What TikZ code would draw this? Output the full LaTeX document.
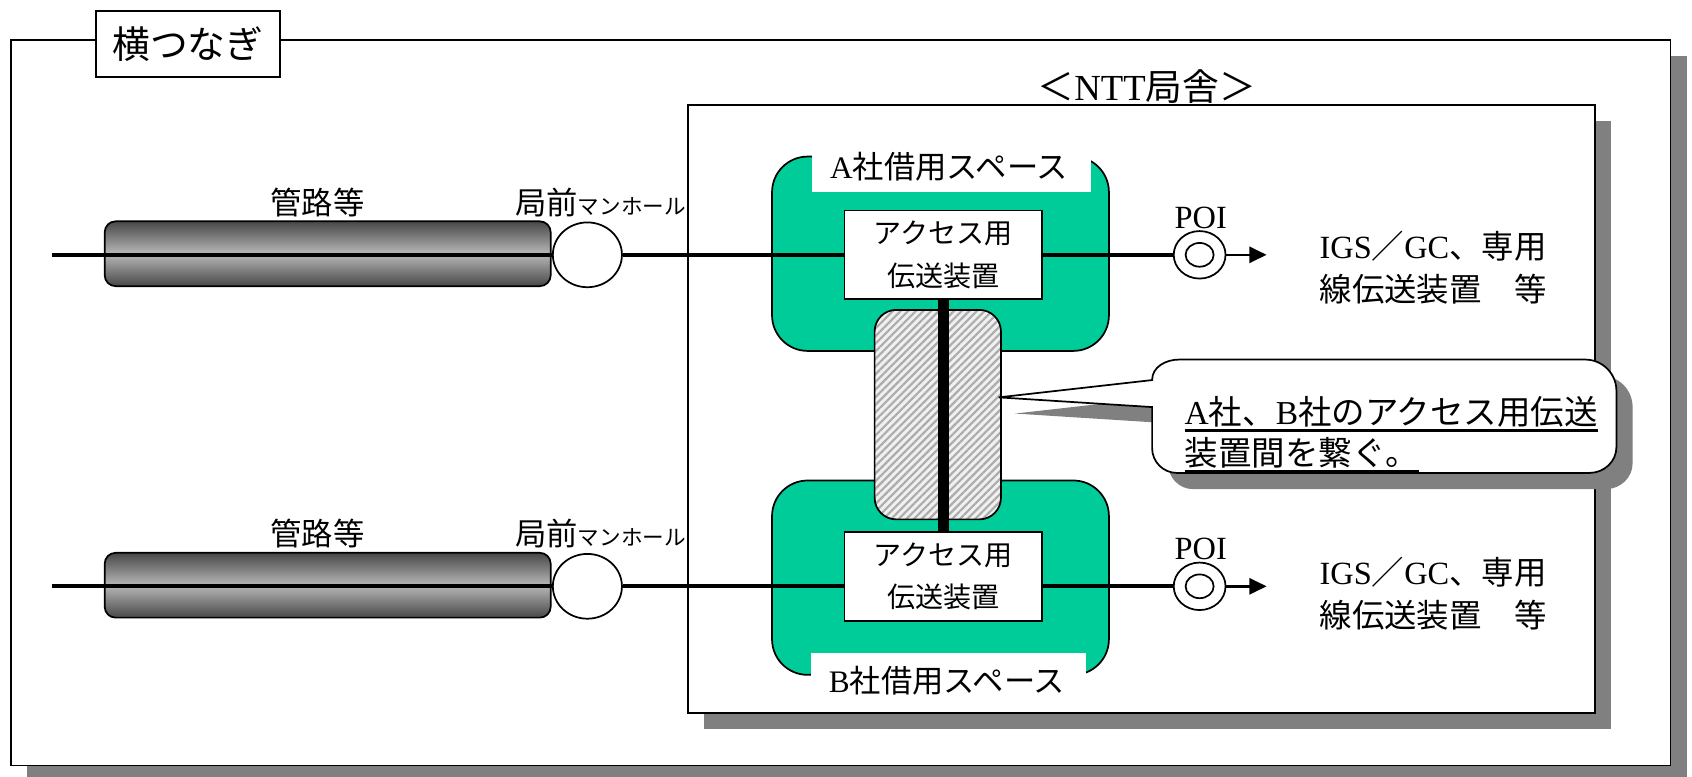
\documentclass[tikz,border=0pt]{standalone}
\usepackage{fontspec}
\setmainfont{Liberation Serif}
\newfontfamily\cjk{Noto Sans CJK JP}
\usetikzlibrary{shapes.geometric,patterns.meta,arrows.meta,shadows}
\definecolor{sgreen}{HTML}{00CC99}
\definecolor{shadowgray}{HTML}{808080}
\newcommand\latn[1]{{\rmfamily #1}}
\newcommand\fs[2]{\fontsize{#1}{#2}\selectfont}
\begin{document}
\begin{tikzpicture}[x=1pt,y=-1pt,
  box/.style={draw, line width=1.6pt, fill=white, inner sep=0pt},
  sh/.style={drop shadow={shadow xshift=15pt, shadow yshift=-15pt, opacity=1, fill=shadowgray}},
  conn/.style={line width=3.6pt},
  thinconn/.style={line width=2.2pt},
  pipe/.style={draw, line width=1.6pt, rounded corners=10pt, top color=black!72, bottom color=black!72, middle color=black!28, minimum width=413pt, minimum height=60pt, inner sep=0pt},
  hole/.style={ellipse, draw, line width=1.6pt, fill=white, minimum width=64pt, minimum height=60pt, inner sep=0pt},
  space/.style={draw, line width=1.6pt, fill=sgreen, rounded corners=33pt, minimum width=312pt, minimum height=180pt, inner sep=0pt},
  lblbg/.style={fill=white, inner sep=0pt},
  equip/.style={draw, line width=1.6pt, fill=white, minimum width=183pt, minimum height=82pt, align=center, font=\cjk\fs{26}{39}, inner sep=0pt},
  hatch/.style={draw, line width=1.6pt, rounded corners=20pt, minimum width=117pt, minimum height=194pt, inner sep=0pt, preaction={fill=gray!12}, pattern={Lines[angle=45,distance=5pt,line width=2pt]}, pattern color=gray!65},
  poi/.style={ellipse, draw, line width=1.6pt, fill=white, minimum width=48pt, minimum height=44pt, inner sep=0pt},
  poiin/.style={ellipse, draw, line width=1.6pt, minimum width=26pt, minimum height=22pt, inner sep=0pt},
  jp/.style={font=\cjk\fs{29}{40}, inner sep=0pt},
  dst/.style={font=\cjk\fs{30}{40}, inner sep=0pt},
  latlbl/.style={font=\rmfamily\fs{30}{36}, inner sep=0pt},
  balloon/.style={draw, line width=1.6pt, fill=white},
  ctext/.style={font=\cjk\fs{31}{37}, inner sep=0pt},
  uline/.style={line width=2pt},
  tip/.style={-{Triangle[length=16pt,width=15pt]}}
]
\useasboundingbox (0,0) rectangle (1567,719);

% frames
\node[box, sh, minimum width=1537pt, minimum height=672pt] (outer) at (778.5,373) {};
\node[box, minimum width=170pt, minimum height=61pt, font=\cjk\fs{35}{40}] (title) at (174,40.5) {横つなぎ};
\node[box, sh, minimum width=840pt, minimum height=563pt] (ntt) at (1057,378.5) {};
\node[font=\cjk\fs{34}{40}, inner sep=0pt] (nttlbl) at (1062,80) {＜\latn{NTT}局舎＞};

% pipes and manholes
\node[pipe] (pipeA) at (303.5,235) {};
\node[pipe] (pipeB) at (303.5,542) {};
\node[hole] (holeA) at (544,236) {};
\node[hole] (holeB) at (544,543) {};
\node[jp] (kanA) at (294,188) {管路等};
\node[jp] (kanB) at (294,494) {管路等};
\node[jp, anchor=west] (mhA) at (477,188) {局前{\fs{20}{24}マンホール}};
\node[jp, anchor=west] (mhB) at (477,494) {局前{\fs{20}{24}マンホール}};

% rented spaces
\node[space] (spA) at (871,235) {};
\node[space] (spB) at (871,535) {};
\node[lblbg, minimum width=258pt, minimum height=35pt] (spAbg) at (881,160.5) {};
\node[jp] (spAlbl) at (879,154) {\latn{A}社借用スペース};
\node[lblbg, minimum width=255pt, minimum height=47pt] (spBbg) at (878.5,628.5) {};
\node[jp] (spBlbl) at (877,630) {\latn{B}社借用スペース};

% link between equipment
\node[hatch] (link) at (868.5,384) {};

% equipment
\node[equip] (eqA) at (873.5,236) {アクセス用\\伝送装置};
\node[equip] (eqB) at (873.5,534) {アクセス用\\伝送装置};
\draw[line width=10pt] (eqA.south) -- (eqB.north);

% POI
\node[poi] (poiA) at (1111,236) {};
\node[poiin] (poiAi) at (1111,236) {};
\node[poi] (poiB) at (1111,543) {};
\node[poiin] (poiBi) at (1111,543) {};
\node[latlbl] (poiAl) at (1112,202) {POI};
\node[latlbl] (poiBl) at (1112,508) {POI};

% connectors
\coordinate (startA) at (48,236);
\coordinate (startB) at (48,543);
\coordinate (endA) at (1173,236);
\coordinate (endB) at (1173,543);
\draw[conn] (startA) -- (holeA.west);
\draw[conn] (holeA.east) -- (eqA.west);
\draw[conn] (eqA.east) -- (poiA.west);
\draw[thinconn, tip] (poiA.east) -- (endA);
\draw[conn] (startB) -- (holeB.west);
\draw[conn] (holeB.east) -- (holeB.east -| eqB.west);
\draw[conn] (eqB.east |- poiB.west) -- (poiB.west);
\draw[thinconn, tip] (poiB.east) -- (endB);

% destinations
\node[dst, anchor=west, align=left] (dstA) at (1222,248) {\latn{IGS}／\latn{GC}、専用\\線伝送装置　等};
\node[dst, anchor=west, align=left] (dstB) at (1222,550) {\latn{IGS}／\latn{GC}、専用\\線伝送装置　等};

% callout
\coordinate (ctip) at (925,368);
\path[balloon, sh] (1067,352) to[out=90,in=180] (1092,333) -- (1468,333) to[out=0,in=90] (1497,362) -- (1497,414) to[out=-90,in=0] (1472,438) -- (1090,438) to[out=180,in=-90] (1067,415) -- (1067,377) -- (ctip) -- cycle;
\node[ctext, anchor=west] (c1) at (1097,381) {\latn{A}社、\latn{B}社のアクセス用伝送};
\node[ctext, anchor=west] (c2) at (1097,419) {装置間を繋ぐ。};
\draw[uline] ([yshift=-6pt]c1.base west) -- ([yshift=-6pt]c1.base east);
\draw[uline] ([yshift=-6pt]c2.base west) -- ([yshift=-6pt]c2.base east);
\end{tikzpicture}
\end{document}
